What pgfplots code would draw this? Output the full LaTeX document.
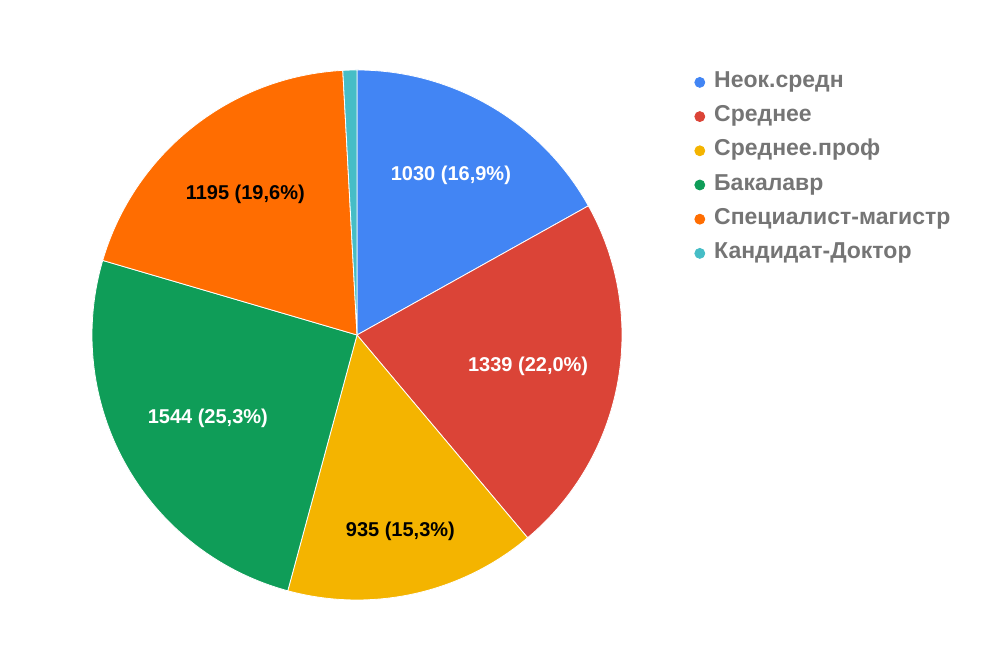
\documentclass[border=0pt]{standalone}
\usepackage{pgfplots}
\pgfplotsset{compat=1.18}
\usepackage{pgfplotstable}
\usepackage{fontspec}
\setmainfont{Liberation Sans}

\definecolor{cA}{HTML}{4285F4}
\definecolor{cB}{HTML}{DB4437}
\definecolor{cC}{HTML}{F4B400}
\definecolor{cD}{HTML}{0F9D58}
\definecolor{cE}{HTML}{FF6D01}
\definecolor{cF}{HTML}{46BDC6}
\definecolor{legtext}{HTML}{757575}

% slice values, drawn clockwise from 12 o'clock; lr = label distance from centre (pt)
\pgfplotstableread[col sep=comma]{
name,value,col,txt,lr
Неок.средн,1030,cA,white,92.75
Среднее,1339,cB,white,87
Среднее.проф,935,cC,black,100.5
Бакалавр,1544,cD,white,85.5
Специалист-магистр,1195,cE,black,90
Кандидат-Доктор,52,cF,white,90
}\pietable

\begin{document}
\begin{tikzpicture}
\pgfplotstablegetrowsof{\pietable}
\pgfmathtruncatemacro\nlast{\pgfplotsretval-1}
\def\total{0}
\pgfplotsforeachungrouped \i in {0,...,\nlast}{%
  \pgfplotstablegetelem{\i}{value}\of\pietable
  \pgfmathsetmacro\total{\total+\pgfplotsretval}%
}
\begin{axis}[
  scale only axis,
  width=500pt, height=333.5pt,
  xmin=0, xmax=1000, ymin=0, ymax=667,
  hide axis, clip=false,
  legend style={
    draw=none, fill=none,
    at={(axis cs:688,599)}, anchor=north west,
    font=\fontsize{11.5}{13}\selectfont\bfseries,
    text=legtext,
    row sep=7.1pt, column sep=4.5pt,
    nodes={inner sep=0pt, text height=7.6pt, text depth=2.4pt},
    legend cell align=left,
  },
  legend image code/.code={\fill[#1] (2.5pt,0pt) circle (2.5pt);},
]
\path (rel axis cs:0,0) rectangle (rel axis cs:1,1);
\def\cum{0}
\pgfplotsforeachungrouped \i in {0,...,\nlast}{%
  \pgfplotstablegetelem{\i}{value}\of\pietable \let\v\pgfplotsretval
  \pgfplotstablegetelem{\i}{col}\of\pietable \let\c\pgfplotsretval
  \pgfplotstablegetelem{\i}{txt}\of\pietable \let\t\pgfplotsretval
  \pgfplotstablegetelem{\i}{name}\of\pietable \let\n\pgfplotsretval
  \pgfplotstablegetelem{\i}{lr}\of\pietable \let\lr\pgfplotsretval
  \pgfmathsetmacro\aS{90-\cum/\total*360}%
  \pgfmathsetmacro\cum{\cum+\v}%
  \pgfmathsetmacro\aE{90-\cum/\total*360}%
  \pgfmathsetmacro\aM{(\aS+\aE)/2}%
  \pgfmathsetmacro\pct{round(\v/\total*1000)/10}%
  \pgfmathtruncatemacro\pcI{\pct}%
  \pgfmathtruncatemacro\pcF{round(10*\pct-10*\pcI)}%
  \edef\temp{%
    \noexpand\fill[\c, draw=white, line width=0.4pt] (axis cs:357,332) --
      ([shift={(\aS:132.5pt)}]axis cs:357,332)
      arc[start angle=\aS, end angle=\aE, radius=132.5pt] -- cycle;
    \noexpand\addlegendimage{\c}
    \noexpand\addlegendentry{\n}
  }\temp
  \ifdim\pct pt>2pt
    \edef\temp{%
      \noexpand\node[text=\t, font=\noexpand\fontsize{10}{12}\noexpand\selectfont\noexpand\bfseries]
        at ([shift={(\aM:\lr pt)}]axis cs:357,332) {\v\space(\pcI,\pcF\noexpand\%)};
    }\temp
  \fi
}
\end{axis}
\end{tikzpicture}
\end{document}
